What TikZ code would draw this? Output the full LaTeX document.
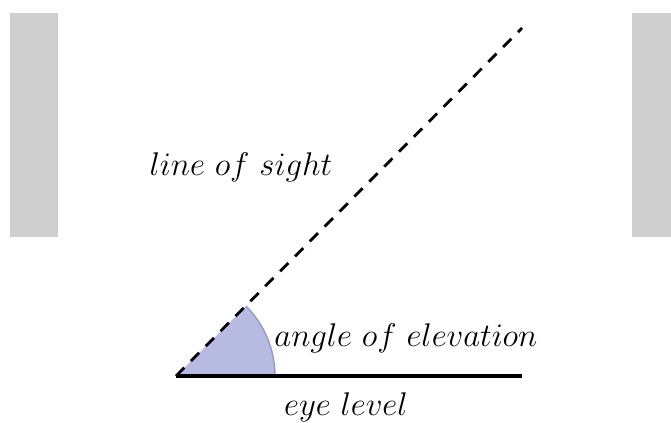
\RequirePackage{fix-cm}
\documentclass[tikz,border=0pt]{standalone}
\usepackage{amsmath,amssymb}
\usepackage{tikz}
\usetikzlibrary{arrows.meta,positioning,calc}
\usepackage{xcolor}
\definecolor{panelgray}{RGB}{207,207,207}
\definecolor{anglefill}{RGB}{183,187,226}
\definecolor{angledraw}{RGB}{150,156,200}

\begin{document}
\begin{tikzpicture}[
  x=0.03cm, y=-0.03cm,
  panel/.style={fill=panelgray, draw=none},
  label/.style={font=\fontsize{28}{33}\selectfont, inner sep=0pt},
  sight/.style={line width=2.4pt, dash pattern=on 10pt off 8pt},
  level/.style={line width=3.2pt}
]
\useasboundingbox (0,0) rectangle (671,423);
\fill[panel] (10,13) rectangle (58,237);
\fill[panel] (632,13) rectangle (671,237);
\coordinate (eye) at (176,376);
\coordinate (far) at (522,376);
\coordinate (sky) at (522,28);
\coordinate (arcstart) at (275,376);
\fill[anglefill] (eye) -- (arcstart) arc[start angle=0, end angle=-45, radius=99] -- cycle;
\draw[angledraw, line width=1.2pt] (arcstart) arc[start angle=0, end angle=-45, radius=99];
\draw[sight] (eye) -- (sky);
\draw[level] (eye) -- (far);
\node[label] (los) at (241,167) {$line\ of\ sight$};
\node[label] (aoe) at (406,338) {$angle\ of\ elevation$};
\node[label] (el) at (346,407) {$eye\ level$};
\end{tikzpicture}
\end{document}
